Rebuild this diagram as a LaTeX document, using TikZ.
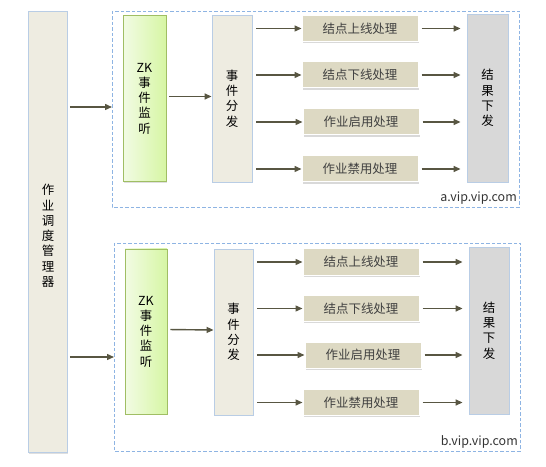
\documentclass[tikz,border=0pt]{standalone}
\usepackage{fontspec}
\setmainfont{Noto Sans CJK SC}
\usetikzlibrary{arrows.meta,shadows}
\definecolor{tan}{RGB}{238,236,225}
\definecolor{tandark}{RGB}{221,217,195}
\definecolor{paleblue}{RGB}{185,205,229}
\definecolor{dashblue}{RGB}{142,180,227}
\definecolor{zkleft}{RGB}{242,251,228}
\definecolor{zkright}{RGB}{214,246,164}
\definecolor{zkedge}{RGB}{160,190,100}
\definecolor{resgray}{RGB}{216,216,216}
\definecolor{olive}{RGB}{88,86,66}

\begin{document}
\begin{tikzpicture}[
  x=1bp, y=-1bp,
  font=\fontsize{12.5}{15.3}\selectfont,
  colbox/.style={
    draw=paleblue, line width=0.9bp, fill=tan, align=center,
    inner sep=0pt, drop shadow={shadow xshift=0.6bp, shadow yshift=-1.4bp, opacity=0.25}
  },
  zkbox/.style={
    colbox, draw=zkedge, left color=zkleft, right color=zkright
  },
  handler/.style={
    draw=white, line width=1bp, fill=tandark, text=black!75,
    minimum width=116bp, minimum height=26bp, inner sep=0pt,
    drop shadow={shadow xshift=0.6bp, shadow yshift=-1.6bp, opacity=0.3}
  },
  resultbox/.style={colbox, fill=resgray},
  clusterframe/.style={
    draw=dashblue, line width=0.8bp, dash pattern=on 3.5bp off 2bp
  },
  flow/.style={-{Triangle[length=7bp,width=6bp]}, line width=1.4bp, draw=olive},
  hostlabel/.style={font=\fontsize{12.5}{14}\selectfont, text=black!80, anchor=south east, inner sep=1bp}
]
\useasboundingbox (0,0) rectangle (546,467);

% Scheduler column.
\node[colbox, minimum width=39bp, minimum height=441bp] (mgr) at (48,232)
  {\\[3bp]作\\业\\调\\度\\管\\理\\器};

% Cluster frames.
\draw[clusterframe] (112,11) rectangle (519,207);
\draw[clusterframe] (114,243) rectangle (520,451);
\node[hostlabel] (hostA) at (518,206) {a.vip.vip.com};
\node[hostlabel] (hostB) at (519,450) {b.vip.vip.com};
\coordinate (inA) at (112,107);
\coordinate (inB) at (114,357);

% Cluster a.
\node[zkbox, minimum width=43bp, minimum height=166bp] (zkA) at (144.5,98.5) {ZK\\事\\件\\监\\听};
\node[colbox, minimum width=40bp, minimum height=167bp] (dispA) at (232,98.5) {事\\件\\分\\发};
\node[handler] (hA1) at (360,28.5) {结点上线处理};
\node[handler] (hA2) at (360,75)   {结点下线处理};
\node[handler] (hA3) at (361,122)  {作业启用处理};
\node[handler] (hA4) at (360,169)  {作业禁用处理};
\node[resultbox, minimum width=41bp, minimum height=168bp] (resA) at (487.5,98) {结\\果\\下\\发};

% Cluster b.
\node[zkbox, minimum width=42bp, minimum height=165bp] (zkB) at (146,331.5) {ZK\\事\\件\\监\\听};
\node[colbox, minimum width=39bp, minimum height=166bp] (dispB) at (233.5,332) {事\\件\\分\\发};
\node[handler] (hB1) at (361,262)   {结点上线处理};
\node[handler] (hB2) at (361,308.5) {结点下线处理};
\node[handler] (hB3) at (363,355)   {作业启用处理};
\node[handler] (hB4) at (361,402.5) {作业禁用处理};
\node[resultbox, minimum width=40bp, minimum height=167bp] (resB) at (489,330.5) {结\\果\\下\\发};

% Scheduler feeds both clusters.
\draw[flow, shorten <=2bp] (mgr.east |- inA) -- (inA);
\draw[flow, shorten <=2bp] (mgr.east |- inB) -- (inB);

% Listener to dispatcher, dispatcher to handlers, handlers to result.
\foreach \c in {A,B}{
  \draw[flow, shorten <=3bp] ([yshift=2bp]zk\c.east) -- ([yshift=2bp]disp\c.west);
  \foreach \i in {1,...,4}{
    \draw[flow, shorten <=4bp] (disp\c.east |- h\c\i) -- (h\c\i.west);
    \draw[flow, shorten <=3bp, shorten >=6bp] (h\c\i.east) -- (res\c.west |- h\c\i);
  }
}

\end{tikzpicture}
\end{document}
